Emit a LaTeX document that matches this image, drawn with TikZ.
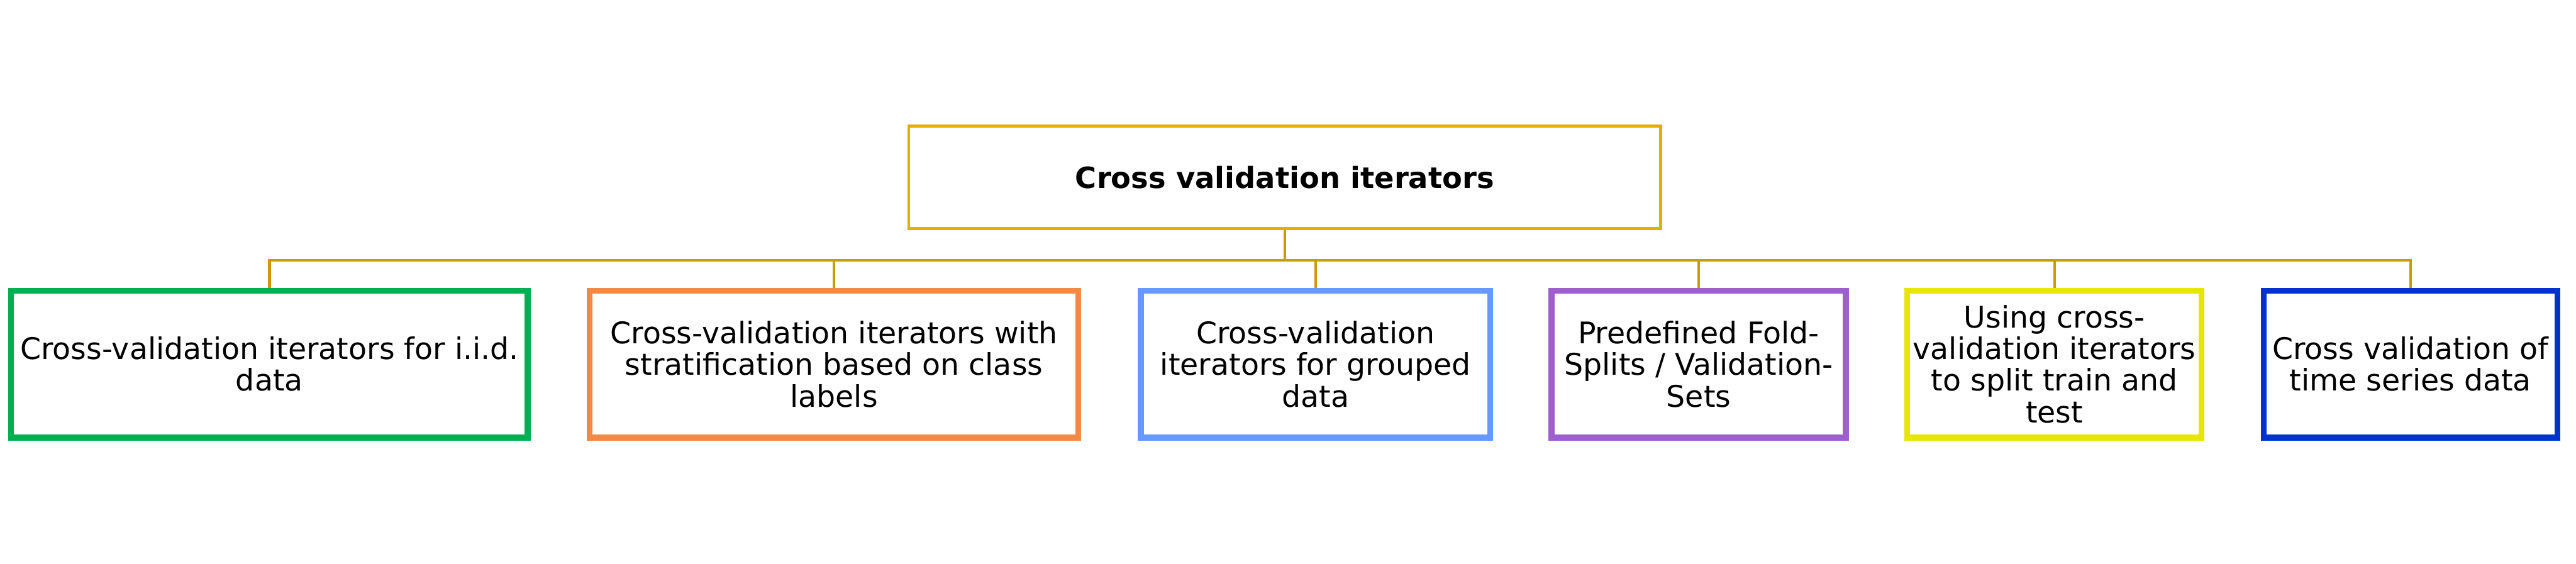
\documentclass[tikz,border=0pt]{standalone}
\usepackage{fontspec}
\setmainfont{DejaVu Sans}
\definecolor{rootcolor}{RGB}{230,172,0}
\definecolor{linkcolor}{RGB}{204,153,0}
\definecolor{mycolor1}{RGB}{0,176,80}
\definecolor{mycolor2}{RGB}{240,138,70}
\definecolor{mycolor3}{RGB}{102,153,255}
\definecolor{mycolor4}{RGB}{158,95,206}
\definecolor{mycolor5}{RGB}{230,230,0}
\definecolor{mycolor6}{RGB}{0,51,204}
\tikzset{
    rootbox/.style={draw=rootcolor, line width=1.4pt, minimum width=12.85cm, minimum height=1.75cm, font=\fontsize{14.2}{15.2}\selectfont\bfseries},
    childbox/.style={line width=2.85pt, minimum height=2.51cm, align=center, inner sep=0pt, font=\fontsize{14.5}{15.4}\selectfont},
    link/.style={draw=linkcolor, line width=1.3pt}
}

\begin{document}
\begin{tikzpicture}

    \useasboundingbox (0,0) rectangle (44.03,9.64);

    % Root
    \node[rootbox] at (21.96,6.61) (Root) {Cross validation iterators};

    % Children
    \node[childbox, draw=mycolor1, minimum width=8.83cm] at (4.605,3.415) (Iid) {Cross-validation iterators for i.i.d.\\data};
    \node[childbox, draw=mycolor2, minimum width=8.35cm] at (14.255,3.415) (Strat) {Cross-validation iterators with\\stratification based on class\\labels};
    \node[childbox, draw=mycolor3, minimum width=5.97cm] at (22.485,3.415) (Group) {Cross-validation\\iterators for grouped\\data};
    \node[childbox, draw=mycolor4, minimum width=5.03cm] at (29.035,3.415) (Predef) {Predefined Fold-\\Splits / Validation-\\Sets};
    \node[childbox, draw=mycolor5, minimum width=5.03cm] at (35.115,3.415) (Split) {Using cross-\\validation iterators\\to split train and\\test};
    \node[childbox, draw=mycolor6, minimum width=5.02cm] at (41.2,3.415) (Time) {Cross validation of\\time series data};

    % Connectors
    \coordinate (Bus) at (21.96,5.19);
    \draw[link] (Root.south) -- (Root.south |- Bus);
    \draw[link] (Iid.north) -- (Iid.north |- Bus) -- (Time.north |- Bus) -- (Time.north);
    \draw[link] (Strat.north) -- (Strat.north |- Bus);
    \draw[link] (Group.north) -- (Group.north |- Bus);
    \draw[link] (Predef.north) -- (Predef.north |- Bus);
    \draw[link] (Split.north) -- (Split.north |- Bus);

\end{tikzpicture}
\end{document}
